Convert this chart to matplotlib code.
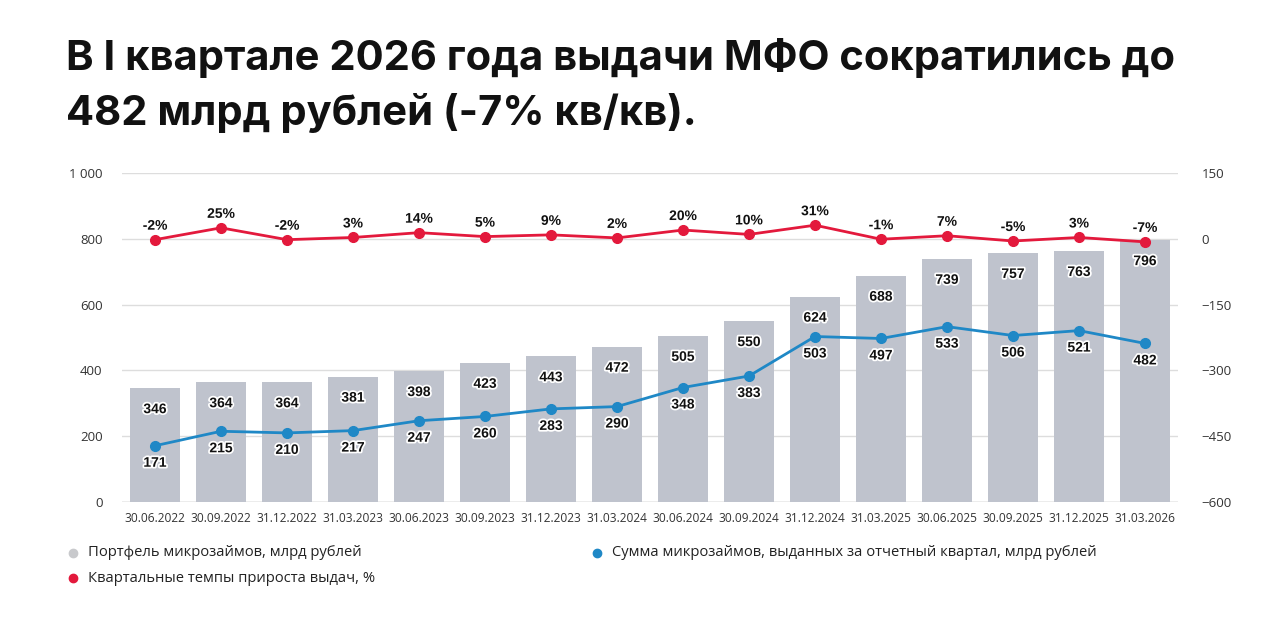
import matplotlib
matplotlib.use("Agg")
import matplotlib.pyplot as plt
import matplotlib.patheffects as pe
from matplotlib.lines import Line2D
import numpy as np

dates = ["30.06.2022", "30.09.2022", "31.12.2022", "31.03.2023", "30.06.2023",
         "30.09.2023", "31.12.2023", "31.03.2024", "30.06.2024", "30.09.2024",
         "31.12.2024", "31.03.2025", "30.06.2025", "30.09.2025", "31.12.2025",
         "31.03.2026"]
portfolio = [346, 364, 364, 381, 398, 423, 443, 472, 505, 550, 624, 688, 739, 757, 763, 796]
issued = [171, 215, 210, 217, 247, 260, 283, 290, 348, 383, 503, 497, 533, 506, 521, 482]
growth = [-2, 25, -2, 3, 14, 5, 9, 2, 20, 10, 31, -1, 7, -5, 3, -7]

BAR = "#bfc3cd"
BLUE = "#1f88c6"
RED = "#e3193c"

plt.rcParams["font.family"] = ["Open Sans", "DejaVu Sans"]

fig = plt.figure(figsize=(12.8, 6.19), dpi=100)
ax = fig.add_axes([122 / 1280, 1 - 502 / 619, (1178 - 122) / 1280, (502 - 173) / 619])
ax2 = ax.twinx()

x = np.arange(len(dates))
ax.bar(x, portfolio, width=0.76, color=BAR, zorder=2)
ax.plot(x, issued, color=BLUE, lw=2, marker="o", ms=7, zorder=3)
ax2.plot(x, growth, color=RED, lw=2, marker="o", ms=7, zorder=3)

halo = [pe.withStroke(linewidth=2.5, foreground="white")]
lbl = dict(ha="center", va="center", fontsize=10, fontweight="bold",
           family=["Liberation Sans", "DejaVu Sans"], color="#111111", path_effects=halo, zorder=5)
for i in x:
    ax.annotate(str(portfolio[i]), (i, portfolio[i]), xytext=(0, -21), textcoords="offset pixels", **lbl)
    ax.annotate(str(issued[i]), (i, issued[i]), xytext=(0, -17), textcoords="offset pixels", **lbl)
    ax2.annotate(f"{growth[i]}%", (i, growth[i]), xytext=(0, 14), textcoords="offset pixels", **lbl)

ax.set_xlim(-0.5, len(dates) - 0.5)
ax.set_ylim(0, 1000)
ax2.set_ylim(-600, 150)
ax.set_yticks(range(0, 1001, 200))
ax.set_yticklabels(["0", "200", "400", "600", "800", "1 000"])
ax2.set_yticks(range(-600, 151, 150))
ax.set_xticks(x)
ax.set_xticklabels(dates)
ax.grid(axis="y", color="#dddddd", lw=1, zorder=0)
ax.set_axisbelow(True)
for a in (ax, ax2):
    for s in a.spines.values():
        s.set_visible(False)
    a.tick_params(length=0, labelsize=9.5, colors="#333333")
ax.tick_params(axis="x", labelsize=8.6, pad=7)
ax.tick_params(axis="y", pad=14)
ax2.tick_params(axis="y", pad=17)
ax.axhline(0, color="#bbbbbb", lw=1, zorder=1)

title_font = dict(fontsize=30, fontweight="bold", family=["Inter", "DejaVu Sans"], va="center", color="#111111")
fig.text(66 / 1280, 1 - 58 / 619, "В I квартале 2026 года выдачи МФО сократились до", **title_font)
fig.text(66 / 1280, 1 - 113 / 619, "482 млрд рублей (-7% кв/кв).", **title_font)

legend_items = [
    (73, 553, "#c8c9cc", "Портфель микрозаймов, млрд рублей"),
    (73, 578, RED, "Квартальные темпы прироста выдач, %"),
    (597, 553, BLUE, "Сумма микрозаймов, выданных за отчетный квартал, млрд рублей"),
]
for lx, ly, c, t in legend_items:
    fig.add_artist(Line2D([lx / 1280], [1 - ly / 619], marker="o", ms=6, color=c, lw=0))
    fig.text((lx + 15) / 1280, 1 - ly / 619, t, fontsize=10.6, va="center", color="#222222")

fig.savefig("out.png", dpi=100, facecolor="white")
